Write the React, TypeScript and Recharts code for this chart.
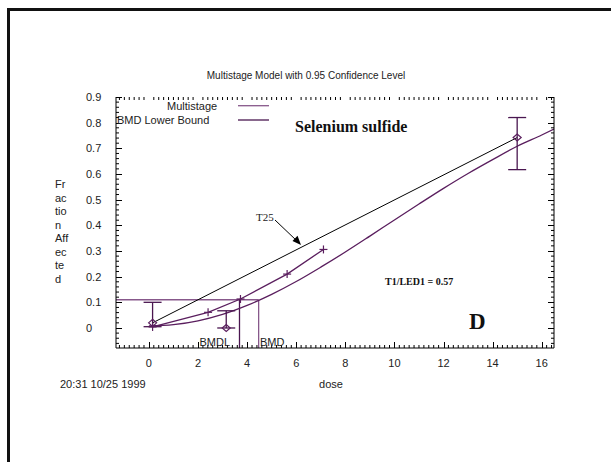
import React from 'react';
import { ComposedChart, XAxis, YAxis, Line, Scatter, ErrorBar, ReferenceLine } from 'recharts';

const W = 611;
const H = 462;

// axis ticks
const xMajorTicks = [0, 2, 4, 6, 8, 10, 12, 14, 16];
const yMajorTicks = [0, 0.1, 0.2, 0.3, 0.4, 0.5, 0.6, 0.7, 0.8, 0.9];
const xDomain: [number, number] = [-1.34, 16.5];
const yDomain: [number, number] = [-0.078, 0.9];

// multistage fitted curve
const curveDose = [0, 1, 2, 3, 4, 5, 6, 7, 8, 9, 10, 11, 12, 13, 14, 15, 16, 16.5];
const curveFrac = [0.008, 0.013, 0.028, 0.053, 0.088, 0.131, 0.181, 0.237, 0.296, 0.358, 0.421, 0.483, 0.544, 0.602, 0.656, 0.708, 0.752, 0.775];

// lower bound curve with + markers
const lowerDose = [0.15, 2.41, 3.73, 5.63, 7.11];
const lowerFrac = [0.004, 0.061, 0.113, 0.21, 0.306];

// observed data with confidence intervals
const obsDose = [0.15, 3.15, 15];
const obsFrac = [0.02, 0, 0.742];
const obsLow = [0.005, 0, 0.617];
const obsHigh = [0.1, 0.067, 0.82];

// straight line (T25)
const slopeDose = [0.15, 15];
const slopeFrac = [0.02, 0.742];

const BMR = 0.11;
const BMDL = 3.69;
const BMD = 4.47;

const PURPLE = '#5a1e5e';
const LIGHT_PURPLE = '#87588b';
const DARK_PURPLE = '#4a1650';

const curveData = curveDose.map((d, i) => ({ dose: d, frac: curveFrac[i] }));
const lowerData = lowerDose.map((d, i) => ({ dose: d, frac: lowerFrac[i] }));
const obsData = obsDose.map((d, i) => ({ dose: d, frac: obsFrac[i], err: [obsFrac[i] - obsLow[i], obsHigh[i] - obsFrac[i]] }));
const slopeData = slopeDose.map((d, i) => ({ dose: d, frac: slopeFrac[i] }));

// minor tick positions (frame decoration)
const xMinorTicks: number[] = [];
for (let i = -6; i <= 82; i++) {
  const v = Number((i * 0.2).toFixed(2));
  if (!xMajorTicks.some((t) => Math.abs(t - v) < 1e-6)) xMinorTicks.push(v);
}
const yMinorTicks: number[] = [];
for (let i = -3; i <= 44; i++) {
  const v = Number((i * 0.02).toFixed(2));
  if (!yMajorTicks.some((t) => Math.abs(t - v) < 1e-6)) yMinorTicks.push(v);
}
// minor tick lengths in data units (~3px)
const xMinorLen = ((yDomain[1] - yDomain[0]) * 3) / 251;
const yMinorLen = ((xDomain[1] - xDomain[0]) * 3) / 438;

const SANS = 'Liberation Sans, Arial, sans-serif';
const SERIF = 'Liberation Serif, Times New Roman, serif';

const makeXTick = (side: 'bottom' | 'top') => (props: any) => {
  const { x, y, payload } = props;
  const v = payload.value;
  const dir = side === 'bottom' ? -1 : 1;
  const px = Math.round(x) + 0.5;
  return (
    <g>
      <line x1={px} x2={px} y1={y} y2={y + dir * 6} stroke="#000" strokeWidth={1} />
      {side === 'bottom' ? (
        <text x={x} y={y + 19} textAnchor="middle" fontSize={11} fontFamily={SANS} fill="#222">
          {v}
        </text>
      ) : null}
    </g>
  );
};

const makeYTick = (side: 'left' | 'right') => (props: any) => {
  const { x, y, payload } = props;
  const v = payload.value;
  const dir = side === 'left' ? 1 : -1;
  const py = Math.round(y) + 0.5;
  return (
    <g>
      <line x1={x} x2={x + dir * 6} y1={py} y2={py} stroke="#000" strokeWidth={1} />
      {side === 'left' ? (
        <text x={x - 30} y={y + 4} textAnchor="start" fontSize={11} fontFamily={SANS} fill="#222">
          {v === 0 ? '0' : v.toFixed(1)}
        </text>
      ) : null}
    </g>
  );
};

const Diamond = (props: any) => {
  const { cx, cy } = props;
  if (cx == null || cy == null) return null;
  return (
    <path
      d={`M${cx - 4},${cy} L${cx},${cy - 3.5} L${cx + 4},${cy} L${cx},${cy + 3.5} Z`}
      fill="none"
      stroke={PURPLE}
      strokeWidth={1.2}
    />
  );
};

const Plus = (props: any) => {
  const { cx, cy } = props;
  if (cx == null || cy == null) return null;
  return (
    <g stroke={PURPLE} strokeWidth={1.2}>
      <line x1={cx - 4} x2={cx + 4} y1={cy} y2={cy} />
      <line x1={cx} x2={cx} y1={cy - 4} y2={cy + 4} />
    </g>
  );
};

export default function App() {
  return (
    <div style={{ position: 'fixed', left: 0, top: 0, width: W, height: H, background: '#fff' }}>
      <ComposedChart
        width={W}
        height={H}
        margin={{ top: 97, right: 47, bottom: 84, left: 86 }}
        style={{ position: 'absolute', left: 0, top: 0 }}
      >
        <XAxis
          xAxisId={0}
          dataKey="dose"
          type="number"
          domain={xDomain}
          allowDataOverflow
          ticks={xMajorTicks}
          interval={0}
          tickSize={0}
          tickMargin={0}
          tickLine={false}
          height={30}
          axisLine={{ stroke: '#000', strokeWidth: 1 }}
          tick={makeXTick('bottom')}
        />
        <XAxis
          xAxisId="top"
          orientation="top"
          dataKey="dose"
          type="number"
          domain={xDomain}
          allowDataOverflow
          ticks={xMajorTicks}
          interval={0}
          tickSize={0}
          tickMargin={0}
          tickLine={false}
          height={0}
          axisLine={{ stroke: '#000', strokeWidth: 1 }}
          tick={makeXTick('top')}
        />
        <YAxis
          yAxisId={0}
          dataKey="frac"
          type="number"
          domain={yDomain}
          allowDataOverflow
          ticks={yMajorTicks}
          interval={0}
          tickSize={0}
          tickMargin={0}
          tickLine={false}
          width={30}
          axisLine={{ stroke: '#000', strokeWidth: 1 }}
          tick={makeYTick('left')}
        />
        <YAxis
          yAxisId="right"
          orientation="right"
          dataKey="frac"
          type="number"
          domain={yDomain}
          allowDataOverflow
          ticks={yMajorTicks}
          interval={0}
          tickSize={0}
          tickMargin={0}
          tickLine={false}
          width={10}
          axisLine={{ stroke: '#000', strokeWidth: 1 }}
          tick={makeYTick('right')}
        />
        {xMinorTicks.map((v) => (
          <ReferenceLine
            key={`xb${v}`}
            segment={[{ x: v, y: yDomain[0] }, { x: v, y: yDomain[0] + xMinorLen }]}
            stroke="#000"
            strokeWidth={1}
            ifOverflow="visible"
          />
        ))}
        {xMinorTicks.map((v) => (
          <ReferenceLine
            key={`xt${v}`}
            segment={[{ x: v, y: yDomain[1] }, { x: v, y: yDomain[1] - xMinorLen }]}
            stroke="#000"
            strokeWidth={1}
            ifOverflow="visible"
          />
        ))}
        {yMinorTicks.map((v) => (
          <ReferenceLine
            key={`yl${v}`}
            segment={[{ x: xDomain[0], y: v }, { x: xDomain[0] + yMinorLen, y: v }]}
            stroke="#000"
            strokeWidth={1}
            ifOverflow="visible"
          />
        ))}
        {yMinorTicks.map((v) => (
          <ReferenceLine
            key={`yr${v}`}
            segment={[{ x: xDomain[1], y: v }, { x: xDomain[1] - yMinorLen, y: v }]}
            stroke="#000"
            strokeWidth={1}
            ifOverflow="visible"
          />
        ))}
        <ReferenceLine
          segment={[{ x: xDomain[0], y: BMR }, { x: BMD, y: BMR }]}
          stroke={LIGHT_PURPLE}
          strokeWidth={1.3}
        />
        <ReferenceLine
          segment={[{ x: BMD, y: BMR }, { x: BMD, y: yDomain[0] }]}
          stroke={LIGHT_PURPLE}
          strokeWidth={1.3}
        />
        <ReferenceLine
          segment={[{ x: BMDL, y: lowerFrac[2] }, { x: BMDL, y: yDomain[0] }]}
          stroke={DARK_PURPLE}
          strokeWidth={1.3}
        />
        <Line
          data={slopeData}
          dataKey="frac"
          type="linear"
          stroke="#000"
          strokeWidth={1}
          dot={false}
          isAnimationActive={false}
          legendType="none"
        />
        <Line
          data={curveData}
          dataKey="frac"
          type="monotone"
          stroke={PURPLE}
          strokeWidth={1.3}
          dot={false}
          isAnimationActive={false}
          legendType="none"
        />
        <Scatter
          data={lowerData}
          dataKey="frac"
          line={{ stroke: PURPLE, strokeWidth: 1.3 }}
          shape={Plus}
          isAnimationActive={false}
          legendType="none"
        />
        <Scatter data={obsData} dataKey="frac" shape={Diamond} isAnimationActive={false} legendType="none">
          <ErrorBar dataKey="err" direction="y" width={9} stroke={DARK_PURPLE} strokeWidth={1.3} isAnimationActive={false} />
        </Scatter>
      </ComposedChart>
      <svg
        width={W}
        height={H}
        style={{ position: 'absolute', left: 0, top: 0, pointerEvents: 'none' }}
      >
        <path d={`M8.5,${H} V9.5 H${W}`} fill="none" stroke="#111" strokeWidth={3} />
        <text x={306} y={79} textAnchor="middle" fontSize={10} fontFamily={SANS} fill="#222">
          Multistage Model with 0.95 Confidence Level
        </text>
        <text x={167} y={110} fontSize={11} fontFamily={SANS} fill="#222">Multistage</text>
        <line x1={238} x2={269} y1={105.7} y2={105.7} stroke={LIGHT_PURPLE} strokeWidth={1.3} />
        <text x={117} y={124} fontSize={11} fontFamily={SANS} fill="#222">BMD Lower Bound</text>
        <line x1={238} x2={269} y1={120} y2={120} stroke={DARK_PURPLE} strokeWidth={1.3} />
        {['Fr', 'ac', 'tio', 'n', 'Aff', 'ec', 'te', 'd'].map((s, i) => (
          <text key={i} x={55} y={188 + i * 13.5} fontSize={11} fontFamily={SANS} fill="#222">
            {s}
          </text>
        ))}
        <text x={60} y={388} fontSize={11} fontFamily={SANS} fill="#222">20:31 10/25 1999</text>
        <text x={331} y={388} textAnchor="middle" fontSize={11} fontFamily={SANS} fill="#222">dose</text>
        <text x={230} y={346} textAnchor="end" fontSize={11} fontFamily={SANS} fill="#222">BMDL</text>
        <text x={260} y={346} fontSize={11} fontFamily={SANS} fill="#222">BMD</text>
        <text x={295} y={132} fontSize={16} fontWeight="bold" fontFamily={SERIF} fill="#111">Selenium sulfide</text>
        <text x={385} y={285} fontSize={10} fontWeight="bold" fontFamily={SERIF} fill="#111">T1/LED1 = 0.57</text>
        <text x={469} y={329} fontSize={23} fontWeight="bold" fontFamily={SERIF} fill="#111">D</text>
        <text x={256} y={221} fontSize={11} fontFamily={SERIF} fill="#222">T25</text>
        <line x1={275} y1={220} x2={297} y2={241} stroke="#000" strokeWidth={1} />
        <path d="M301,245 L292.5,241 L297.5,235.8 Z" fill="#000" />
      </svg>
    </div>
  );
}
